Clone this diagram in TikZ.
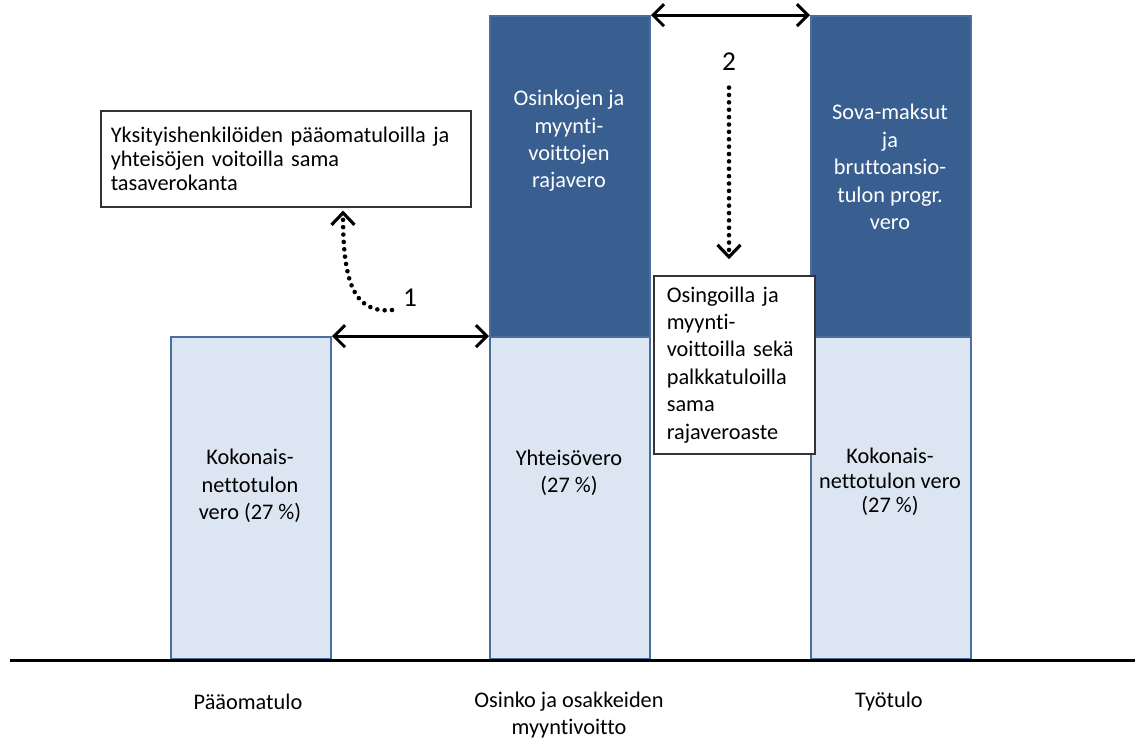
\documentclass[tikz,border=0pt]{standalone}
\usepackage{fontspec}
\setmainfont[Ligatures=NoCommon]{Carlito}
\usetikzlibrary{arrows.meta}
\definecolor{barblue}{HTML}{385F90}
\definecolor{barlight}{HTML}{DCE6F2}
\definecolor{barline}{HTML}{4A6E9E}
\begin{document}
\begin{tikzpicture}[x=0.02cm, y=-0.02cm,
  font=\fontsize{12.7}{15.6}\selectfont,
  darkbar/.style={draw=barline, fill=barblue, line width=1.1pt, minimum width=3.2cm, minimum height=6.42cm, anchor=south west, inner sep=0pt},
  lightbar/.style={draw=barline, fill=barlight, line width=1.1pt, minimum width=3.2cm, minimum height=6.44cm, anchor=south west, inner sep=0pt},
  notebox/.style={draw=black!80, fill=white, line width=0.9pt, align=left, anchor=north west},
  tight/.style={font=\fontsize{12.7}{13.9}\selectfont},
  span/.style={{Straight Barb[length=2.2mm,width=4.4mm]}-{Straight Barb[length=2.2mm,width=4.4mm]}, line width=1.7pt},
  hint/.style={-{Straight Barb[length=2.4mm,width=4.6mm,line width=1.8pt]}, line width=2.6pt, dash pattern={on 0pt off 4.2pt}, line cap=round}]
 \useasboundingbox (0,0) rectangle (1136,738);
 % bars
 \node[lightbar] (pq) at (170,660) {};
 \node[lightbar] (oq) at (489,660) {};
 \node[lightbar] (tq) at (810,660) {};
 \node[darkbar] (od) at (489,338) {};
 \node[darkbar] (td) at (810,338) {};
 \draw[line width=1.7pt] (10,660) -- (1135,660);
 % texts in bars
 \node[white, align=center] (odt) at (569,141) {Osinkojen ja\\myynti-\\voittojen\\rajavero};
 \node[white, align=center] (tdt) at (890,167) {Sova-maksut\\ja\\bruttoansio-\\tulon progr.\\vero};
 \node[align=center] (pqt) at (250,486) {Kokonais-\\nettotulon\\vero (27 \%)};
 \node[align=center] (oqt) at (569,473) {Yhteisövero\\(27 \%)};
 \node[align=center, tight] (tqt) at (890,482) {Kokonais-\\nettotulon vero\\(27 \%)};
 % labels under the axis
 \node (pl) at (248,702) {Pääomatulo};
 \node[align=center] (ol) at (569,715) {Osinko ja osakkeiden\\myyntivoitto};
 \node (tl) at (889,702) {Työtulo};
 % notes
 \node[notebox, tight, text width=7.0cm, inner xsep=0.2cm, minimum height=1.92cm] (b1) at (100,110)
   {Yksityishenkilöiden pääomatuloilla ja\\yhteisöjen voitoilla sama\\tasaverokanta};
 \node[notebox, text width=2.7cm, inner xsep=0.26cm, minimum height=3.56cm] (b2) at (653,275)
   {Osingoilla ja\\myynti-\\voittoilla sekä\\palkkatuloilla\\sama\\rajaveroaste};
 \node[font=\fontsize{15.5}{17}\selectfont] (n1) at (410,298) {1};
 \node[font=\fontsize{15.5}{17}\selectfont] (n2) at (729,62) {2};
 % arrows
 \draw[span] (pq.north east) -- (oq.north west);
 \draw[span] (od.north east) -- (td.north west);
 \coordinate (s1) at (392,310);
 \path (b1.south west) ++(243,3) coordinate (t1);
 \draw[hint] (s1) .. controls (352,314) and (343,278) .. (t1);
 \draw[hint, shorten <=6pt, shorten >=9pt] (n2.south) -- (n2.south |- b2.north);
\end{tikzpicture}
\end{document}
